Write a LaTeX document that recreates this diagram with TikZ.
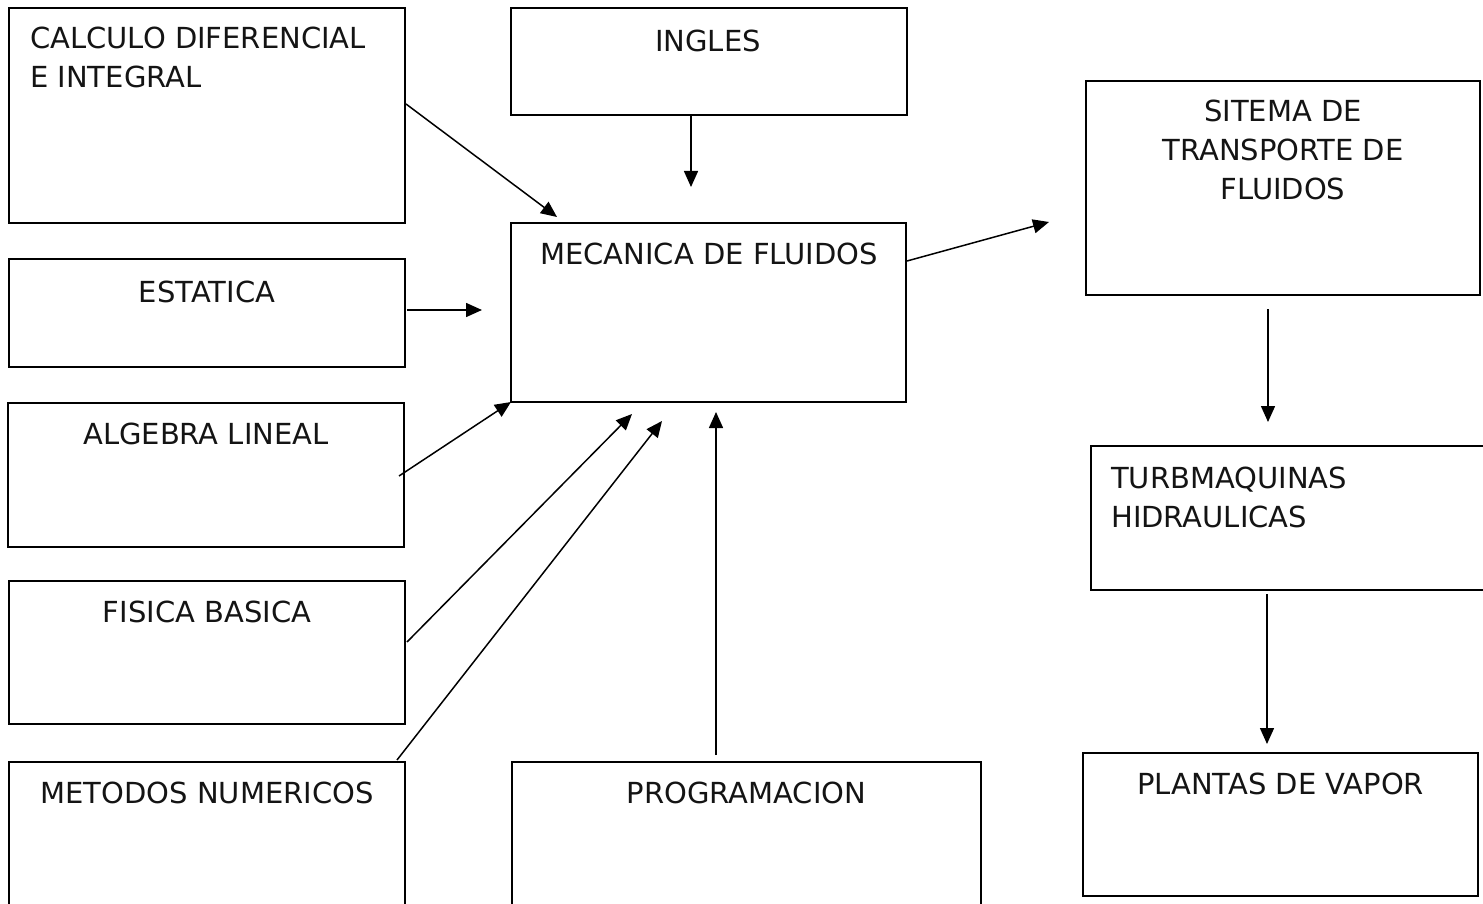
\documentclass[tikz,border=0pt]{standalone}
\usepackage{fontspec}
\setmainfont{DejaVu Sans}
\usetikzlibrary{arrows.meta}
\tikzset{
  box/.style={draw=black, line width=1.7pt, inner sep=0pt, outer sep=0pt, fill=white},
  lbl/.style={inner sep=0pt, font=\fontsize{29}{35}\selectfont, text=black!92},
  lblc/.style={lbl, anchor=base},
  lbll/.style={lbl, anchor=base west},
  arr/.style={line width=1.5pt, -{Triangle[length=16pt,width=14pt]}}
}
\begin{document}
\begin{tikzpicture}[x=1pt,y=-1pt]
\clip (0,0) rectangle (1483,904);
\fill[white] (0,0) rectangle (1483,904);
% boxes
\node[box, minimum width=396, minimum height=215] (calc) at (207,115.5) {};
\node[box, minimum width=396, minimum height=107] (ingl) at (709,61.5) {};
\node[box, minimum width=394, minimum height=214] (sist) at (1283,188) {};
\node[box, minimum width=396, minimum height=108] (esta) at (207,313) {};
\node[box, minimum width=395, minimum height=179] (meca) at (708.5,312.5) {};
\node[box, minimum width=396, minimum height=144] (alge) at (206,475) {};
\node[box, minimum width=396, minimum height=143] (fisi) at (207,652.5) {};
\node[box, minimum width=396, minimum height=168] (meto) at (207,846) {};
\node[box, minimum width=469, minimum height=168] (prog) at (746.5,846) {};
\node[box, minimum width=399, minimum height=144] (turb) at (1290.5,518) {};
\node[box, minimum width=395, minimum height=143] (plan) at (1280.5,824.5) {};
% texts
\node[lbll] (tcalc1) at (30,49) {CALCULO DIFERENCIAL};
\node[lbll] (tcalc2) at (30,88) {E INTEGRAL};
\node[lblc] (tingl) at (708,52) {INGLES};
\node[lblc] (tsist1) at (1283,122) {SITEMA DE};
\node[lblc] (tsist2) at (1283,161) {TRANSPORTE DE};
\node[lblc] (tsist3) at (1283,200) {FLUIDOS};
\node[lblc] (tmeca) at (709,265) {MECANICA DE FLUIDOS};
\node[lblc] (testa) at (207,302) {ESTATICA};
\node[lblc] (talge) at (206,444) {ALGEBRA LINEAL};
\node[lblc] (tfisi) at (207,622) {FISICA BASICA};
\node[lblc] (tmeto) at (207,803) {METODOS NUMERICOS};
\node[lblc] (tprog) at (746.5,803) {PROGRAMACION};
\node[lbll] (tturb1) at (1111,488) {TURBMAQUINAS};
\node[lbll] (tturb2) at (1111,527) {HIDRAULICAS};
\node[lblc] (tplan) at (1280.5,794) {PLANTAS DE VAPOR};
% connector ends
\coordinate (c1a) at (406,104);  \coordinate (c1b) at (557,217);
\coordinate (c2a) at (691,115);  \coordinate (c2b) at (691,187);
\coordinate (c3a) at (407,310);  \coordinate (c3b) at (482,310);
\coordinate (c4a) at (399,476);  \coordinate (c4b) at (511,402);
\coordinate (c5a) at (407,642);  \coordinate (c5b) at (632,414);
\coordinate (c6a) at (397,760);  \coordinate (c6b) at (662,421);
\coordinate (c7a) at (716,755);  \coordinate (c7b) at (716,412);
\coordinate (c8a) at (907,261);  \coordinate (c8b) at (1049,222);
\coordinate (c9a) at (1268,309); \coordinate (c9b) at (1268,422);
\coordinate (c10a) at (1267,594); \coordinate (c10b) at (1267,744);
% connectors
\draw[arr] (c1a) -- (c1b);
\draw[arr] (c2a) -- (c2b);
\draw[arr] (c3a) -- (c3b);
\draw[arr] (c4a) -- (c4b);
\draw[arr] (c5a) -- (c5b);
\draw[arr] (c6a) -- (c6b);
\draw[arr] (c7a) -- (c7b);
\draw[arr] (c8a) -- (c8b);
\draw[arr] (c9a) -- (c9b);
\draw[arr] (c10a) -- (c10b);
\end{tikzpicture}
\end{document}
